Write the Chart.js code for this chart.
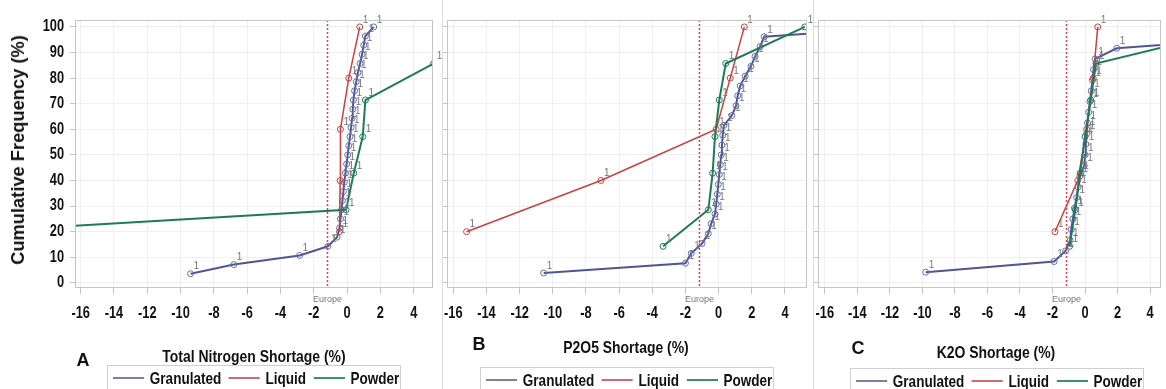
<!DOCTYPE html>
<html><head><meta charset="utf-8">
<script src="https://cdn.jsdelivr.net/npm/chart.js@4.4.1/dist/chart.umd.min.js"></script>
<style>
body{margin:0;width:1166px;height:389px;background:#fff;position:relative;overflow:hidden;font-family:'Liberation Sans',Arial,sans-serif;color:#111}
canvas{position:absolute;top:0}
.sep{position:absolute;top:0;width:1px;height:389px;background:#dcdcdc}
.ytitle{position:absolute;left:18px;top:150px;transform:translate(-50%,-50%) rotate(-90deg);font:bold 18.3px 'Liberation Sans',Arial,sans-serif;white-space:nowrap}
.letter{position:absolute;font:bold 18px 'Liberation Sans',Arial,sans-serif;transform:translate(-50%,-50%)}
.xtitle{position:absolute;font:bold 17px 'Liberation Sans',sans-serif;transform:translate(-50%,-50%) scaleX(0.82);white-space:nowrap}
.legend{position:absolute;border:1px solid #cfcfcf;height:40px;box-sizing:border-box;overflow:hidden}
.legend .inner{position:absolute;left:0;top:2px;transform:scaleX(0.82);transform-origin:0 0;display:flex;padding-left:6px;font:bold 16.5px 'Liberation Sans',sans-serif;line-height:20px;white-space:nowrap}
.legend .sw{display:inline-block;width:38px;height:2px;margin:9px 7px 0 0}
.legend .it{display:flex;margin-right:9px}
</style></head>
<body>
<canvas id="cA" width="442" height="389" style="left:0"></canvas>
<canvas id="cB" width="371" height="389" style="left:442px"></canvas>
<canvas id="cC" width="353" height="389" style="left:813px"></canvas>
<div class="sep" style="left:442px"></div>
<div class="sep" style="left:813px"></div>
<div class="ytitle">Cumulative Frequency (%)</div>

<div class="letter" style="left:83px;top:360px">A</div>
<div class="xtitle" style="left:254px;top:357px">Total Nitrogen Shortage (%)</div>
<div class="legend" style="left:107px;top:365px;width:294px"><div class="inner" id="lgA"></div></div>

<div class="letter" style="left:479px;top:344px">B</div>
<div class="xtitle" style="left:626px;top:348px">P2O5 Shortage (%)</div>
<div class="legend" style="left:480px;top:367px;width:294px"><div class="inner" id="lgB"></div></div>

<div class="letter" style="left:858px;top:348px">C</div>
<div class="xtitle" style="left:996px;top:353px">K2O Shortage (%)</div>
<div class="legend" style="left:850px;top:368px;width:294px"><div class="inner" id="lgC"></div></div>

<script>
// ---------- data ----------
const seriesNames = ['Granulated', 'Liquid', 'Powder'];
const xTickValues = [-16, -14, -12, -10, -8, -6, -4, -2, 0, 2, 4];
const yTickValues = [0, 10, 20, 30, 40, 50, 60, 70, 80, 90, 100];
const europeShortage = -1.2;
const pointLabel = '1';

// Panel A: Total Nitrogen
const nGranX = [-9.4, -6.8, -2.85, -1.15, -0.6, -0.45, -0.4, -0.33, -0.28, -0.22, -0.17, -0.1, -0.03, 0.04, 0.1, 0.18, 0.24, 0.3, 0.34, 0.38, 0.45, 0.55, 0.65, 0.78, 0.9, 1.0, 1.1, 1.6];
const nGranY = [3.57, 7.14, 10.71, 14.29, 17.86, 21.43, 25, 28.57, 32.14, 35.71, 39.29, 42.86, 46.43, 50, 53.57, 57.14, 60.71, 64.29, 67.86, 71.43, 75, 78.57, 82.14, 85.71, 89.29, 92.86, 96.43, 100];
const nLiqX = [-0.45, -0.42, -0.4, 0.1, 0.76];
const nLiqY = [20, 40, 60, 80, 100];
const nPowX = [-37.5, -0.06, 0.4, 0.94, 1.1, 5.2, 9.5];
const nPowY = [14.29, 28.57, 42.86, 57.14, 71.43, 85.71, 100];

// Panel B: P2O5
const pGranX = [-10.55, -2.0, -1.65, -1.0, -0.62, -0.45, -0.22, -0.14, -0.08, -0.02, 0.04, 0.1, 0.16, 0.2, 0.25, 0.32, 0.8, 1.05, 1.15, 1.3, 1.6, 1.95, 2.2, 2.5, 2.75, 11];
const pGranY = [3.85, 7.69, 11.54, 15.38, 19.23, 23.08, 26.92, 30.77, 34.62, 38.46, 42.31, 46.15, 50, 53.85, 57.69, 61.54, 65.38, 69.23, 73.08, 76.92, 80.77, 84.62, 88.46, 92.31, 96.15, 100];
const pLiqX = [-15.2, -7.1, -0.15, 0.7, 1.55];
const pLiqY = [20, 40, 60, 80, 100];
const pPowX = [-3.35, -0.62, -0.36, -0.22, 0.04, 0.43, 5.2];
const pPowY = [14.29, 28.57, 42.86, 57.14, 71.43, 85.71, 100];

// Panel C: K2O
const kGranX = [-9.8, -1.9, -1.2, -0.92, -0.85, -0.75, -0.65, -0.52, -0.42, -0.32, -0.05, 0.0, 0.05, 0.1, 0.15, 0.22, 0.3, 0.38, 0.45, 0.52, 0.62, 1.95, 10.6, 14];
const kGranY = [4.17, 8.33, 12.5, 16.67, 20.83, 25, 29.17, 33.33, 37.5, 41.67, 45.83, 50, 54.17, 58.33, 62.5, 66.67, 70.83, 75, 79.17, 83.33, 87.5, 91.67, 95.83, 100];
const kLiqX = [-1.85, -0.45, 0.1, 0.5, 0.78];
const kLiqY = [20, 40, 60, 80, 100];
const kPowX = [-0.95, -0.6, -0.3, 0.0, 0.35, 0.67, 10.0];
const kPowY = [14.29, 28.57, 42.86, 57.14, 71.43, 85.71, 100];

// ---------- styling ----------
const lineColors = ['#515690', '#c8403f', '#1d7b5a'];
const markColors = ['#6470b0', '#c8403f', '#1d7b5a'];
const lineWidths = [2, 1.5, 2];
const narrow = 0.8;

const pts = (xs, ys) => xs.map((v, i) => ({x: v, y: ys[i]}));

function narrowText(ctx, text, x, y, align) {
  ctx.save();
  ctx.translate(x, y);
  ctx.scale(narrow, 1);
  ctx.textAlign = align;
  ctx.textBaseline = 'middle';
  ctx.fillText(text, 0, 0);
  ctx.restore();
}

const decor = {
  id: 'decor',
  afterDatasetsDraw(chart) {
    const {ctx, chartArea: a, scales: {x}} = chart;
    ctx.save();
    // point labels
    ctx.font = "10px 'Liberation Sans',sans-serif";
    ctx.fillStyle = '#777';
    ctx.textAlign = 'left';
    ctx.textBaseline = 'bottom';
    chart.data.datasets.forEach((ds, i) => {
      chart.getDatasetMeta(i).data.forEach(pt => {
        if (pt.x >= a.left - 1 && pt.x <= a.right + 1 && pt.y >= a.top - 1 && pt.y <= a.bottom + 1) {
          ctx.fillText(pointLabel, pt.x + 3, pt.y - 2);
        }
      });
    });
    // europe reference line
    const ex = Math.round(x.getPixelForValue(europeShortage)) + 0.5;
    ctx.strokeStyle = '#ea3a4a';
    ctx.lineWidth = 1.5;
    ctx.setLineDash([2, 2]);
    ctx.beginPath(); ctx.moveTo(ex, a.top); ctx.lineTo(ex, a.bottom); ctx.stroke();
    ctx.setLineDash([]);
    ctx.font = "9px 'Liberation Sans',sans-serif";
    ctx.fillStyle = '#777';
    ctx.textAlign = 'center';
    ctx.textBaseline = 'middle';
    ctx.fillText('Europe', ex, a.bottom + 12);
    // frame
    ctx.strokeStyle = '#c6c6c6';
    ctx.lineWidth = 1;
    ctx.strokeRect(a.left + 0.5, a.top + 0.5, a.right - a.left - 1, a.bottom - a.top - 1);
    ctx.restore();
  },
  afterDraw(chart, args, opts) {
    const {ctx, chartArea: a, scales: {x, y}} = chart;
    ctx.save();
    ctx.fillStyle = '#111';
    ctx.font = "bold 16px 'Liberation Sans',sans-serif";
    x.ticks.forEach(t => narrowText(ctx, String(t.value), x.getPixelForValue(t.value), a.bottom + 26, 'center'));
    if (opts.yLabels) {
      y.ticks.forEach(t => narrowText(ctx, String(t.value), a.left - 11, y.getPixelForValue(t.value), 'right'));
    }
    ctx.restore();
  }
};

function makePanel(id, series, xmin, xmax, yAxisWidth, padRight, showYLabels) {
  const datasets = series.map((s, i) => ({
    label: seriesNames[i],
    data: pts(s[0], s[1]),
    showLine: true,
    borderColor: lineColors[i],
    borderWidth: lineWidths[i],
    pointRadius: 3,
    pointBorderWidth: 1,
    pointBorderColor: markColors[i],
    pointBackgroundColor: 'rgba(255,255,255,0)',
    tension: 0,
    order: 3 - i
  }));
  return new Chart(document.getElementById(id), {
    type: 'scatter',
    data: {datasets},
    options: {
      responsive: false,
      animation: false,
      devicePixelRatio: 1,
      layout: {padding: {left: 0, right: padRight, top: 20, bottom: 0}},
      plugins: {legend: {display: false}, tooltip: {enabled: false}, decor: {yLabels: showYLabels}},
      scales: {
        x: {
          type: 'linear', min: xmin, max: xmax,
          afterBuildTicks: s => { s.ticks = xTickValues.map(v => ({value: v})); },
          afterFit: s => { s.height = 101; },
          grid: {color: '#efefef', tickColor: '#c4c4c4', tickLength: 6, drawTicks: true},
          border: {display: false},
          ticks: {display: false}
        },
        y: {
          type: 'linear', min: -2, max: 102.7,
          afterBuildTicks: s => { s.ticks = yTickValues.map(v => ({value: v})); },
          afterFit: s => { s.width = yAxisWidth; },
          grid: {color: '#efefef', tickColor: '#c4c4c4', tickLength: 5, drawTicks: true},
          border: {display: false},
          ticks: {display: false}
        }
      }
    },
    plugins: [decor]
  });
}

makePanel('cA', [[nGranX, nGranY], [nLiqX, nLiqY], [nPowX, nPowY]], -16.34, 5.16, 75, 9, true);
makePanel('cB', [[pGranX, pGranY], [pLiqX, pLiqY], [pPowX, pPowY]], -16.38, 5.33, 5, 6, false);
makePanel('cC', [[kGranX, kGranY], [kLiqX, kLiqY], [kPowX, kPowY]], -16.42, 4.67, 5, 0, false);

// legends (HTML text)
const legendSwatch = ['#7b7fa6', '#cf6a72', '#3c8f74'];
['lgA', 'lgB', 'lgC'].forEach(id => {
  const box = document.getElementById(id);
  seriesNames.forEach((n, i) => {
    const it = document.createElement('span');
    it.className = 'it';
    const sw = document.createElement('span');
    sw.className = 'sw';
    sw.style.background = legendSwatch[i];
    const tx = document.createElement('span');
    tx.textContent = n;
    it.appendChild(sw); it.appendChild(tx);
    box.appendChild(it);
  });
});
</script>
</body></html>
